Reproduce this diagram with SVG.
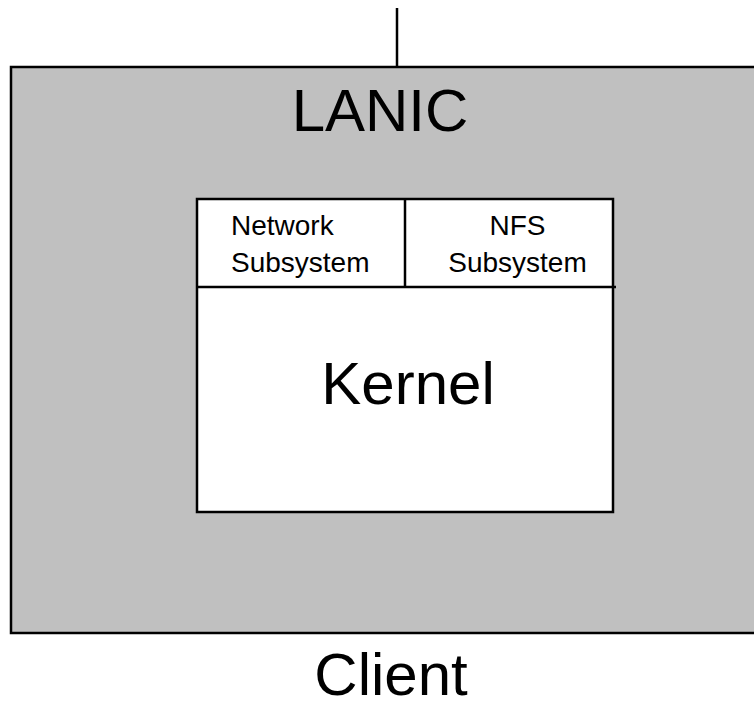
<svg xmlns="http://www.w3.org/2000/svg" width="754" height="710" viewBox="0 0 754 710">
<style>
.t{font-family:"Liberation Sans",Arial,sans-serif;fill:#000}
.big{font-size:60px}
.small{font-size:28px}
.ln{stroke:#000;stroke-width:2.5;fill:none}
</style>
<rect width="754" height="710" fill="#fff"/>
<g id="connectors">
<line class="ln" x1="397" y1="8" x2="397" y2="67"/>
</g>
<g id="client">
<rect x="11" y="67" width="750" height="566" fill="#c0c0c0" stroke="#000" stroke-width="2.5"/>
<text class="t big" x="380" y="131" text-anchor="middle">LANIC</text>
<text class="t big" x="391" y="695" text-anchor="middle">Client</text>
</g>
<g id="kernel">
<rect x="197" y="199" width="416" height="313" fill="#fff" stroke="#000" stroke-width="2.5"/>
<text class="t big" x="408" y="404" text-anchor="middle">Kernel</text>
</g>
<g id="network-subsystem">
<line class="ln" x1="405" y1="199" x2="405" y2="287"/>
<text class="t small" x="231" y="235">Network</text>
<text class="t small" x="231" y="272">Subsystem</text>
</g>
<g id="nfs-subsystem">
<line class="ln" x1="197" y1="287" x2="616" y2="287"/>
<text class="t small" x="517.5" y="235" text-anchor="middle">NFS</text>
<text class="t small" x="517.5" y="272" text-anchor="middle">Subsystem</text>
</g>
</svg>
